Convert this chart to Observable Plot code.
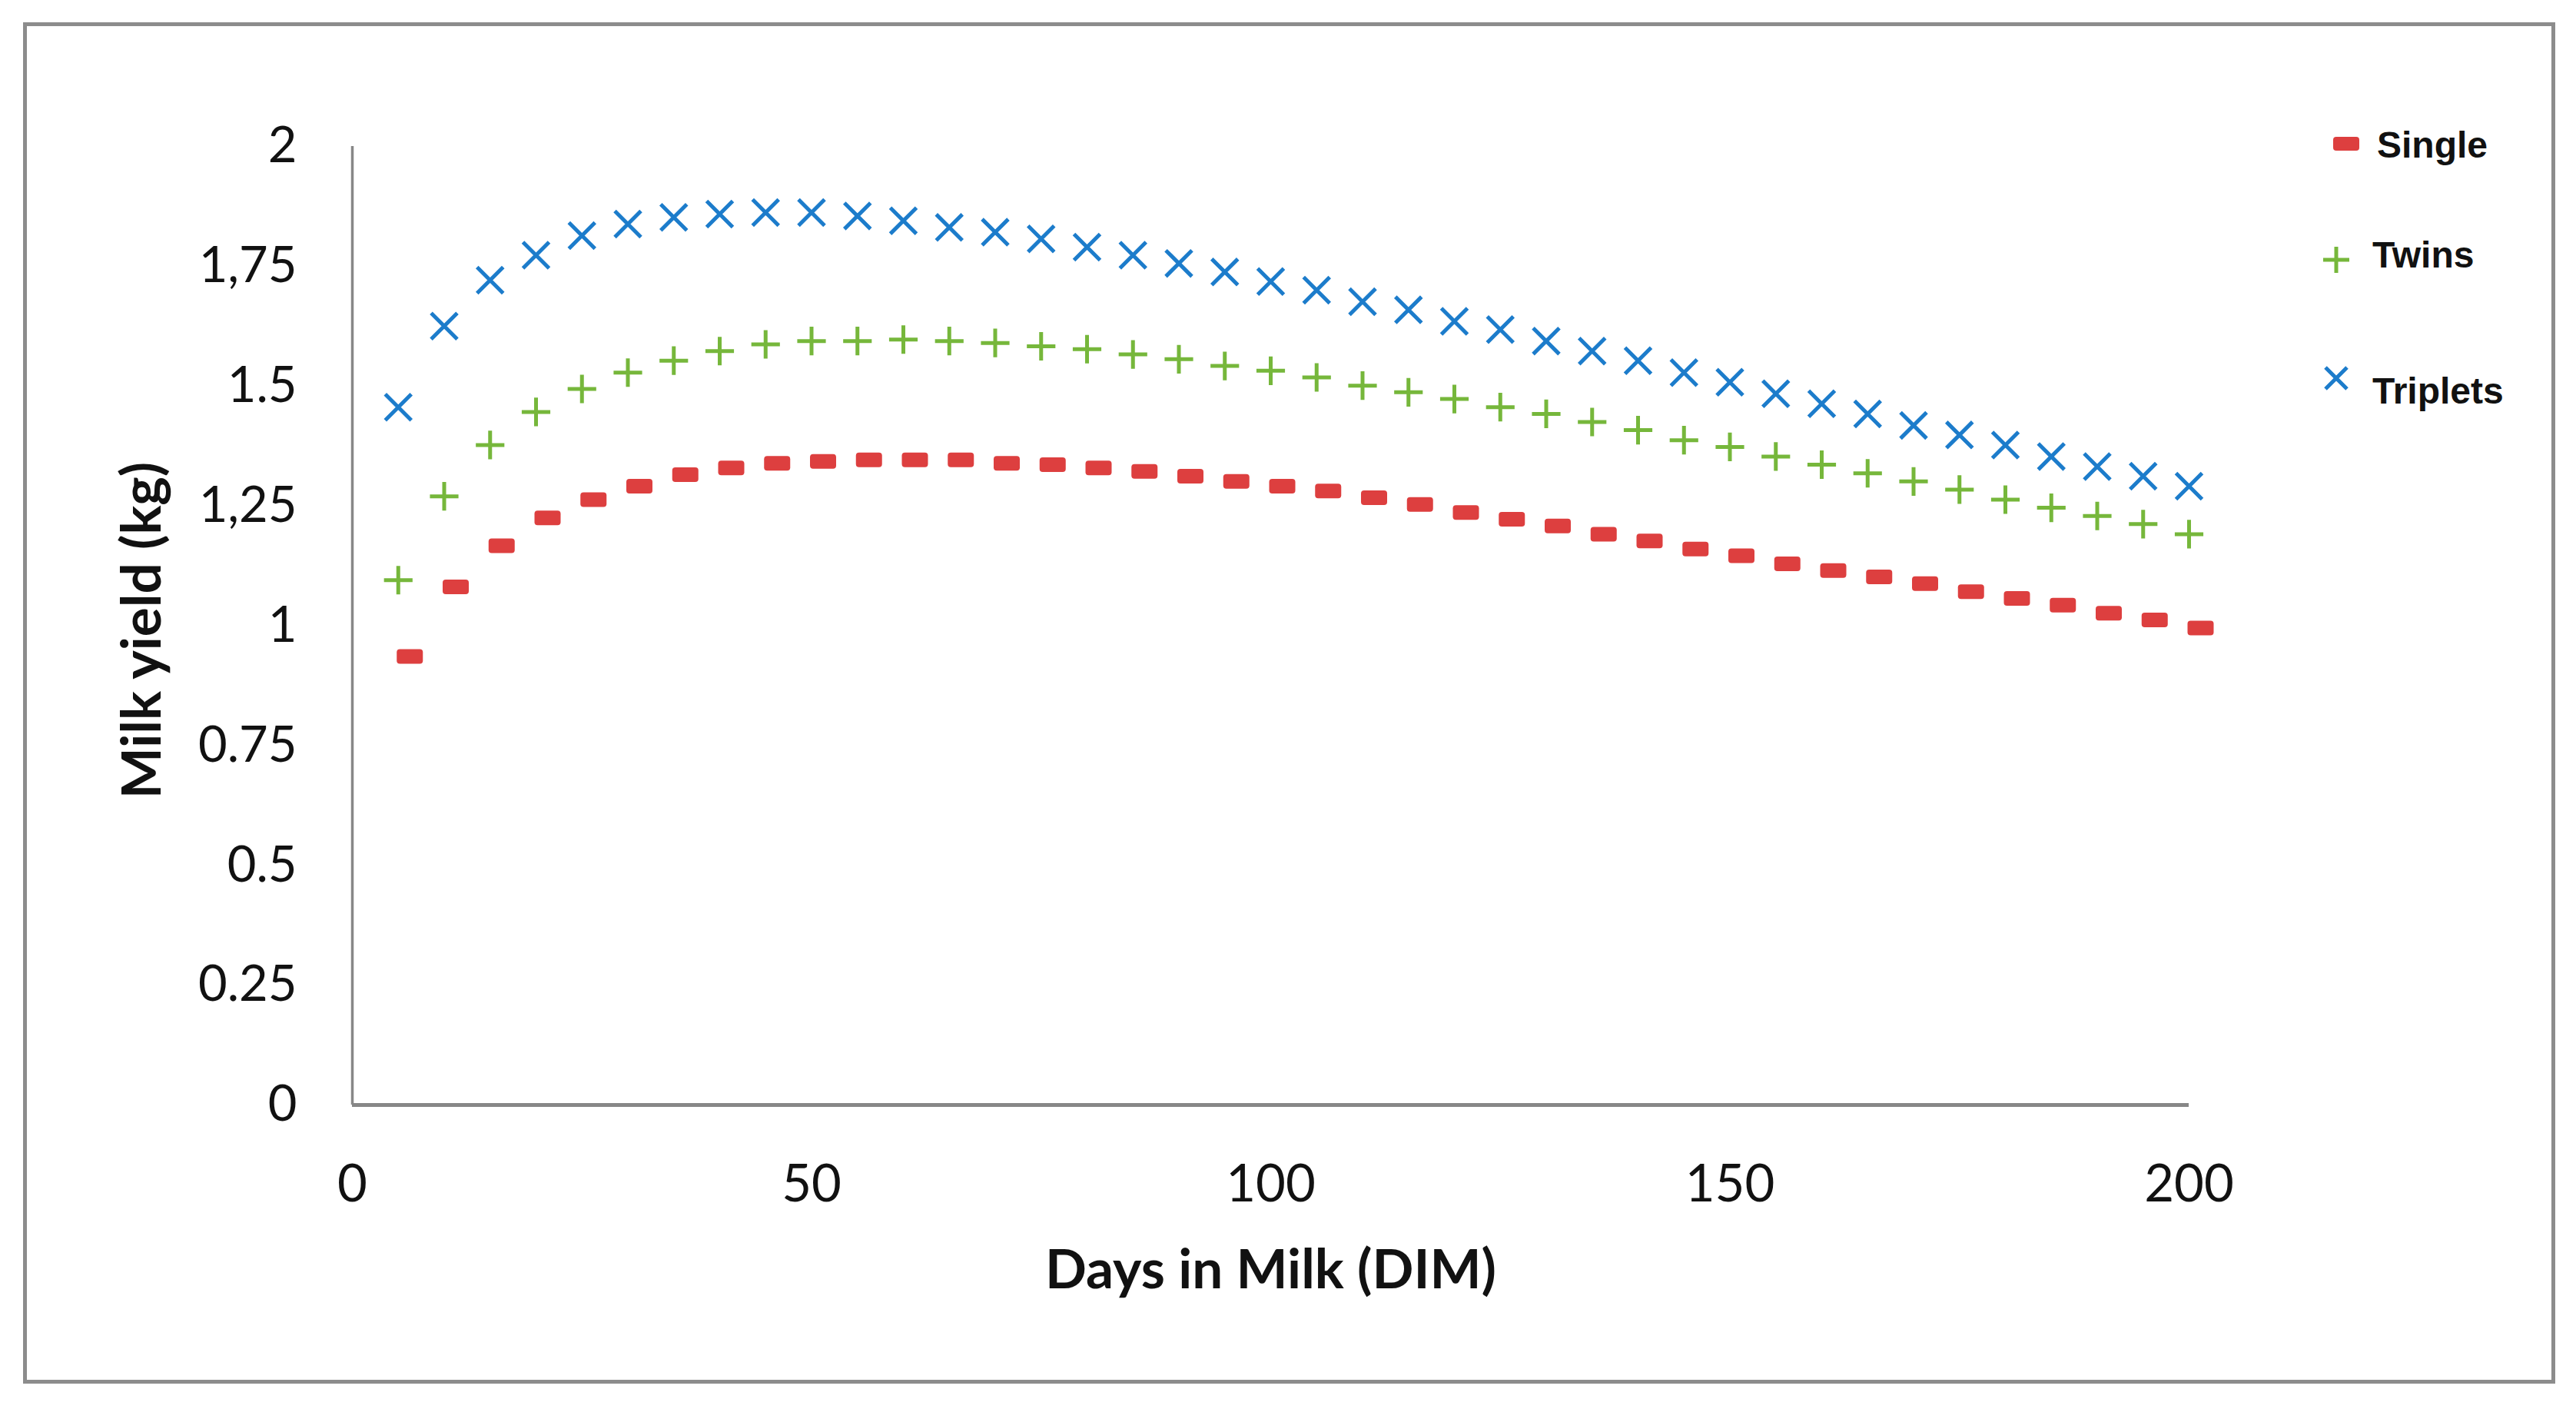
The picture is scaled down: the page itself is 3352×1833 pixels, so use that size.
<!DOCTYPE html>
<html>
<head>
<meta charset="utf-8">
<script src="https://cdn.jsdelivr.net/npm/d3@7"></script>
<script src="https://cdn.jsdelivr.net/npm/@observablehq/plot@0.6"></script>
<style>
  html, body { margin: 0; padding: 0; background: #fff; }
  #wrap { position: relative; width: 3352px; height: 1833px; overflow: hidden; }
  #border { position: absolute; left: 30px; top: 29px; width: 3295px; height: 1771px; box-sizing: border-box; border: 5px solid #8c8c8c; pointer-events: none; }
  #chart { position: absolute; left: 0; top: 0; }
  .leg { position: absolute; font-family: "Liberation Sans", Arial, sans-serif; font-weight: bold; font-size: 48px; color: #111; line-height: 1; }
  .legsym { position: absolute; }
</style>
</head>
<body>
<div id="wrap">
  <div id="chart"></div>
  <div id="border"></div>
  <svg class="legsym" style="left:3033px;top:175px" width="40" height="24"><rect x="3" y="3" width="34" height="18" rx="4" fill="#DD3F3F"/></svg>
  <div class="leg" style="left:3093px;top:165px">Single</div>
  <svg class="legsym" style="left:3020px;top:318px" width="40" height="40"><path d="M3,20H37M20,3V37" stroke="#76B73B" stroke-width="5" fill="none"/></svg>
  <div class="leg" style="left:3087px;top:308px">Twins</div>
  <svg class="legsym" style="left:3022px;top:474px" width="36" height="36"><path d="M4,4L32,32M32,4L4,32" stroke="#1C7CCB" stroke-width="5" fill="none"/></svg>
  <div class="leg" style="left:3087px;top:485px">Triplets</div>
</div>
<script>
// ---- data ----
const days = [5,10,15,20,25,30,35,40,45,50,55,60,65,70,75,80,85,90,95,100,
              105,110,115,120,125,130,135,140,145,150,155,160,165,170,175,180,185,190,195,200];
const single = [0.936,1.081,1.167,1.225,1.263,1.291,1.315,1.329,1.339,1.343,
                1.346,1.346,1.346,1.339,1.336,1.329,1.322,1.312,1.301,1.291,
                1.281,1.267,1.253,1.236,1.222,1.208,1.191,1.177,1.160,1.146,
                1.129,1.115,1.102,1.088,1.071,1.057,1.043,1.026,1.012,0.995];
const twins = [1.095,1.270,1.377,1.446,1.494,1.528,1.553,1.573,1.587,1.594,
               1.594,1.597,1.594,1.590,1.583,1.577,1.566,1.556,1.542,1.532,
               1.518,1.501,1.487,1.473,1.456,1.442,1.425,1.408,1.387,1.373,
               1.353,1.336,1.318,1.301,1.284,1.263,1.246,1.229,1.212,1.191];
const triplets = [1.456,1.625,1.721,1.773,1.814,1.838,1.852,1.859,1.862,1.862,
                  1.855,1.845,1.831,1.821,1.807,1.790,1.773,1.756,1.738,1.718,
                  1.700,1.676,1.659,1.635,1.618,1.594,1.573,1.553,1.528,1.508,
                  1.484,1.463,1.442,1.418,1.398,1.377,1.353,1.332,1.312,1.291];
const xTicks = [0,50,100,150,200];
const yTicks = [0,0.25,0.5,0.75,1,1.25,1.5,1.75,2];
const yTickLabels = ["0","0.25","0.5","0.75","1","1,25","1.5","1,75","2"];
const xTitle = "Days in Milk (DIM)";
const yTitle = "Milk yield (kg)";

const toRows = (vals) => days.map((d, i) => ({day: d, value: vals[i]}));

// custom dash symbol (rounded rectangle)
const dashSymbol = {
  draw(context) {
    const w = 17, h = 9.5, r = 4;
    context.moveTo(-w + r, -h);
    context.lineTo(w - r, -h);
    context.arcTo(w, -h, w, -h + r, r);
    context.lineTo(w, h - r);
    context.arcTo(w, h, w - r, h, r);
    context.lineTo(-w + r, h);
    context.arcTo(-w, h, -w, h - r, r);
    context.lineTo(-w, -h + r);
    context.arcTo(-w, -h, -w + r, -h, r);
    context.closePath();
  }
};

const chart = Plot.plot({
  width: 3352,
  height: 1833,
  marginLeft: 458,
  marginRight: 504,
  marginTop: 190,
  marginBottom: 396,
  style: {fontFamily: "Lato, 'Open Sans', sans-serif", background: "transparent", color: "#111"},
  x: {domain: [0, 200]},
  y: {domain: [0, 2]},
  marks: [
    Plot.axisY({ticks: yTicks, tickFormat: d => yTickLabels[yTicks.indexOf(d)], tickSize: 0, tickPadding: 72, fontSize: 65, label: null}),
    Plot.axisX({ticks: xTicks, tickFormat: d => String(d), tickSize: 0, tickPadding: 78, fontSize: 67, label: null}),
    Plot.ruleX([0], {stroke: "#878787", strokeWidth: 3.5}),
    Plot.ruleY([0], {stroke: "#878787", strokeWidth: 5}),
    Plot.dot(toRows(single), {x: "day", y: "value", symbol: dashSymbol, r: 5, fill: "#DD3F3F", stroke: "none", dx: 15}),
    Plot.dot(toRows(twins), {x: "day", y: "value", symbol: "plus", r: 12, stroke: "#76B73B", strokeWidth: 5, fill: "none"}),
    Plot.dot(toRows(triplets), {x: "day", y: "value", symbol: "times", r: 15.5, stroke: "#1C7CCB", strokeWidth: 5, fill: "none"}),
    Plot.text([xTitle], {frameAnchor: "bottom", lineAnchor: "middle", textAnchor: "middle", dy: 216, fontSize: 71, fontWeight: "bold", fill: "#111"}),
    Plot.text([yTitle], {frameAnchor: "left", lineAnchor: "middle", textAnchor: "middle", dx: -272, dy: 6, rotate: -90, fontSize: 71, fontWeight: "bold", fill: "#111"})
  ]
});
document.getElementById("chart").appendChild(chart);
</script>
</body>
</html>
